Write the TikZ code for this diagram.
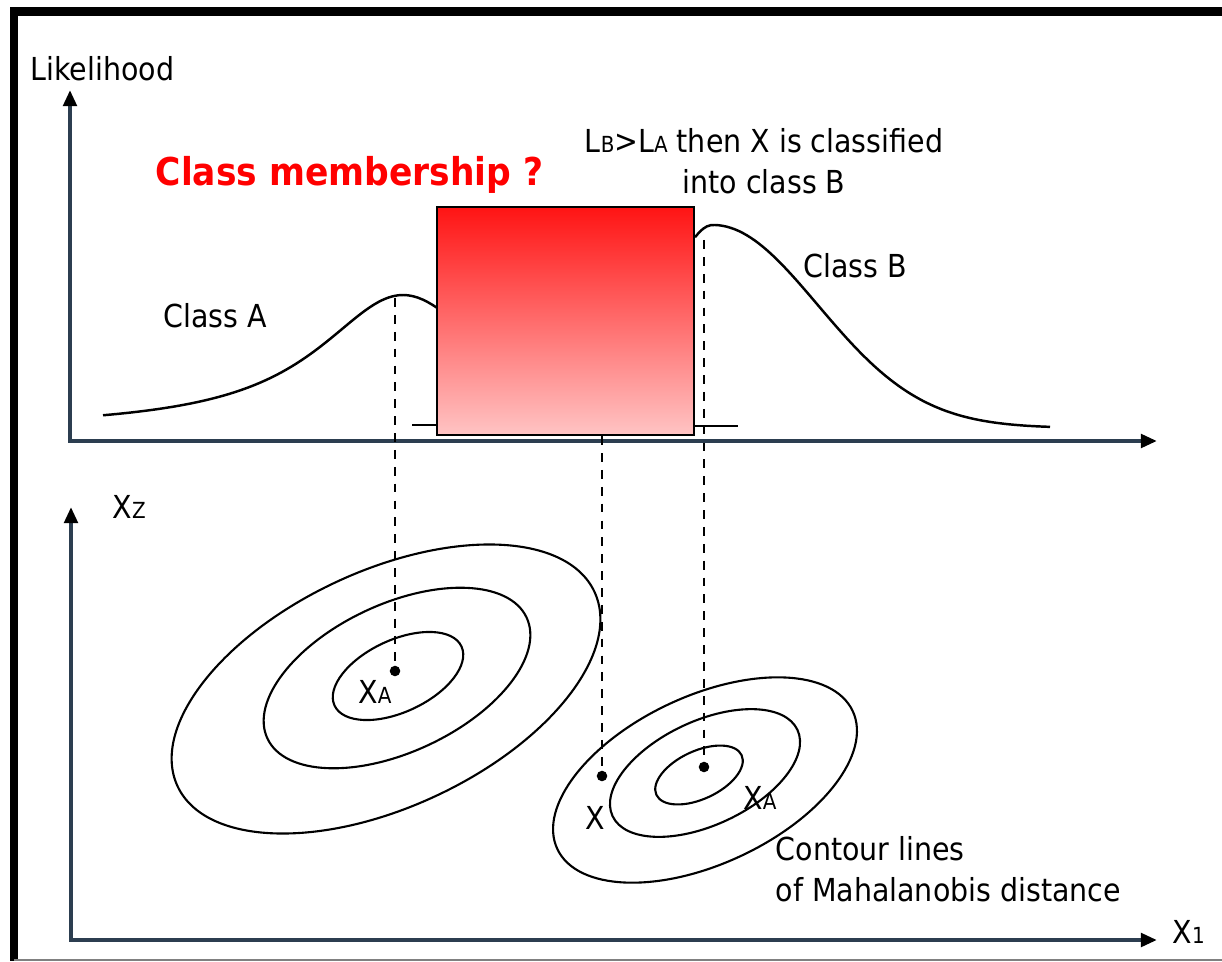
\documentclass[tikz,border=0pt]{standalone}
\usepackage{fontspec}
\setmainfont{DejaVu Sans Condensed}
\usetikzlibrary{arrows.meta}
\definecolor{axiscol}{RGB}{44,62,80}
\definecolor{boxtop}{RGB}{255,20,20}
\definecolor{boxbot}{RGB}{255,196,196}
\definecolor{askcol}{RGB}{255,0,0}
\newcommand{\lowcap}[1]{{\fontsize{6.3}{7}\selectfont #1}}
\tikzset{
  axes/.style    = {line width=1.4pt, draw=axiscol,
                    {Triangle[length=4.6pt,width=3.8pt,color=black]}-{Triangle[length=4.6pt,width=3.8pt,color=black]}},
  curve/.style   = {line width=0.7pt},
  contour/.style = {line width=0.6pt},
  drop/.style    = {line width=0.65pt, dash pattern=on 2.5pt off 2.3pt},
  lab/.style     = {font=\fontsize{9}{11.7}\selectfont, inner sep=0pt},
  pt/.style      = {circle, fill=black, inner sep=0pt, minimum size=3pt},
}

\begin{document}
\begin{tikzpicture}[x=0.01cm, y=-0.01cm]
  \useasboundingbox (0,0) rectangle (1222,961);

  % frame
  \draw[line width=2.3pt] (1222,11.5) -- (14,11.5) -- (14,961);
  \draw[line width=0.3pt, gray] (14,960) -- (1222,960);

  % likelihood axes
  \coordinate (o1) at (70,441);
  \draw[axes] (70,90) -- (o1) -- (1157,441);
  \node[lab, anchor=west] (lik) at (30,69) {Likelihood};

  % feature axes
  \coordinate (o2) at (71,940);
  \draw[axes] (71,507) -- (o2) -- (1157,940);
  \node[lab, anchor=west] (x2) at (112,507) {X\lowcap{Z}};
  \node[lab, anchor=west] (x1) at (1172,932) {X\lowcap{1}};

  % likelihood curves
  \draw[curve] plot[domain=103:437, samples=70]
    (\x, {430-135/(1+((\x-403)/105)^2)});
  \draw[curve] (694,426) -- (738,426);
  \draw[curve] (412,425) -- (437,425);
  \draw[curve] plot[domain=695:1050, samples=90]
    (\x, {428-203*exp(-((\x-713)/(\x<713 ? 72 : 148))^2)});
  \node[lab] (clsA) at (215,316) {Class A};
  \node[lab] (clsB) at (855,266) {Class B};

  % decision box
  \node[draw, line width=0.6pt, top color=boxtop, bottom color=boxbot,
        minimum width=2.57cm, minimum height=2.28cm, inner sep=0pt] (gate) at (565.5,321) {};
  \node[anchor=west, text=askcol, font=\bfseries\fontsize{10.9}{13}\selectfont, inner sep=0pt]
    (ask) at (155,175) {Class membership ?};
  \node[lab, align=center] (rule) at (764,161)
    {L\lowcap{B}>L\lowcap{A} then X is classified\\into class B};

  % contour ellipses
  \foreach \a/\b/\cx/\cy in {70/36/398/676, 143/74/397/678, 230/118/386/689,
                             47/24/699/775, 102/52/705/773, 163/84/705/780}
    \draw[contour, rotate around={25:(\cx,\cy)}] (\cx,\cy) ellipse [x radius=\a, y radius=\b];

  % points and projections
  \coordinate (peakA) at (395,298);
  \coordinate (peakB) at (704,240);
  \node[pt] (xa) at (395,671) {};
  \node[pt] (xq) at (602,776) {};
  \node[pt] (xb) at (704,767) {};
  \draw[drop] (peakA) -- (xa);
  \draw[drop] (gate.south -| xq) -- (xq);
  \draw[drop] (peakB) -- (xb);
  \node[lab] (xalab) at (375,692) {X\lowcap{A}};
  \node[lab] (xlab) at (595,818) {X};
  \node[lab] (xblab) at (760,798) {X\lowcap{A}};
  \node[lab, anchor=west, align=left] (mah) at (775,869)
    {Contour lines\\of Mahalanobis distance};
\end{tikzpicture}
\end{document}
